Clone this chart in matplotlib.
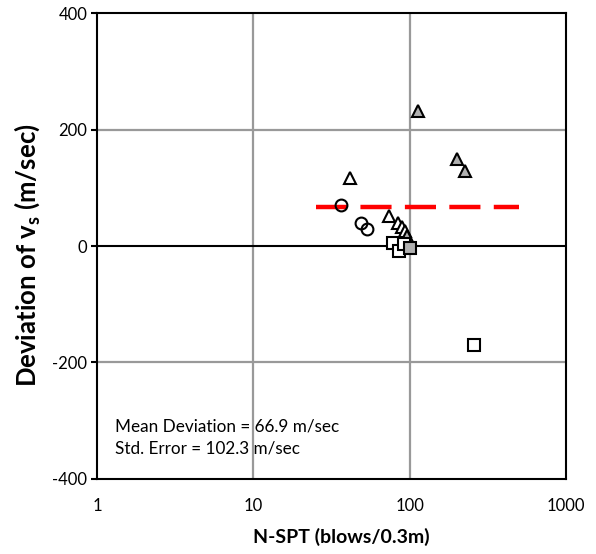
import matplotlib
matplotlib.use('Agg')
import matplotlib.pyplot as plt

plt.rcParams['font.family'] = ['Lato', 'DejaVu Sans']
plt.rcParams['mathtext.fontset'] = 'custom'
plt.rcParams['mathtext.rm'] = 'Lato'
plt.rcParams['mathtext.bf'] = 'Lato:bold'
plt.rcParams['axes.unicode_minus'] = False

# triangles: open, then grey-filled
tri_open_x = [41.6, 74.2, 84.7, 89.0, 93.5]
tri_open_y = [116, 52, 40, 32, 25]
tri_grey_x = [95.8, 113.7, 200, 226]
tri_grey_y = [17, 232, 149, 129]

# circles
circ_x = [36.3, 48.9, 53.2]
circ_y = [70, 39, 30]

# squares: open, then grey-filled
sq_open_x = [78, 85, 92, 256]
sq_open_y = [5, -9, 3, -170]
sq_grey_x = [100.6]
sq_grey_y = [-3]

mean_x = [25, 500]
mean_dev = 66.9
std_err = 102.3

fig = plt.figure(figsize=(5.96, 5.54), dpi=100)
ax = fig.add_axes([0.1628, 0.1354, 0.7869, 0.8411])

ax.set_xscale('log')
ax.set_xlim(1, 1000)
ax.set_ylim(-400, 400)

# grid
for gx in [10, 100]:
    ax.axvline(gx, color='#999999', lw=1.6, zorder=1)
for gy in [200, -200]:
    ax.axhline(gy, color='#999999', lw=1.6, zorder=1)
ax.axhline(0, color='black', lw=1.5, zorder=1)

mk = dict(markersize=8.5, markeredgecolor='black', markeredgewidth=1.5, linestyle='none', zorder=3)
ax.plot(circ_x, circ_y, marker='o', markerfacecolor='none', **mk)
ax.plot(tri_open_x, tri_open_y, marker='^', markerfacecolor='white', **mk)
ax.plot(tri_grey_x, tri_grey_y, marker='^', markerfacecolor='#b0b0b0', **mk)
ax.plot(sq_open_x, sq_open_y, marker='s', markerfacecolor='white', **mk)
ax.plot(sq_grey_x, sq_grey_y, marker='s', markerfacecolor='#b0b0b0', **mk)

ax.plot(mean_x, [mean_dev, mean_dev], color='#ff0000', lw=3.2,
        linestyle=(0, (7, 3)), zorder=2)

ax.text(1.3, -318, 'Mean Deviation = %.1f m/sec' % mean_dev, fontsize=12.3)
ax.text(1.3, -357, 'Std. Error = %.1f m/sec' % std_err, fontsize=12.3)

ax.set_xticks([1, 10, 100, 1000])
ax.set_xticklabels(['1', '10', '100', '1000'])
ax.xaxis.set_minor_locator(matplotlib.ticker.NullLocator())
ax.set_yticks([-400, -200, 0, 200, 400])
ax.tick_params(axis='x', length=0, labelsize=12, pad=14)
ax.tick_params(axis='y', length=4, width=1.5, direction='out', labelsize=12, pad=3)

for s in ax.spines.values():
    s.set_linewidth(1.5)

ax.set_xlabel('N-SPT (blows/0.3m)', fontsize=14, fontweight='bold')
ax.set_ylabel(r'Deviation of v$_\mathbf{s}$ (m/sec)', fontsize=18.5, fontweight='bold')
ax.xaxis.set_label_coords(0.52, -0.105)
ax.yaxis.set_label_coords(-0.118, 0.48)

fig.savefig('out.png', dpi=100)
